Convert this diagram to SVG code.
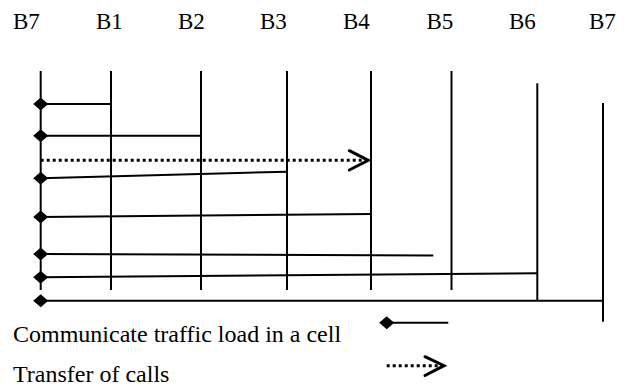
<svg xmlns="http://www.w3.org/2000/svg" width="629" height="386" viewBox="0 0 629 386">
<defs>
<style>
text{font-family:"Liberation Serif","Times New Roman",serif;fill:#000}
.lbl{font-size:23px}
.leg{font-size:24px}
.v{stroke:#000;stroke-width:2;fill:none}
.h{stroke:#000;stroke-width:2;fill:none}
.dot{stroke:#000;stroke-width:3;stroke-dasharray:3 3;fill:none}
.head{stroke:#000;stroke-width:3;fill:none;stroke-linecap:round;stroke-linejoin:miter}
.dm{fill:#000}
</style>
<path id="dia" class="dm" d="M-7.5 0 L0 -6.5 L7.5 0 L0 6.5 Z"/>
</defs>
<rect width="629" height="386" fill="#fff"/>
<g id="label-B7-left"><text class="lbl" x="13" y="29">B7</text></g>
<g id="label-B1"><text class="lbl" x="96" y="29">B1</text></g>
<g id="label-B2"><text class="lbl" x="178" y="29">B2</text></g>
<g id="label-B3"><text class="lbl" x="260" y="29">B3</text></g>
<g id="label-B4"><text class="lbl" x="343" y="29">B4</text></g>
<g id="label-B5"><text class="lbl" x="426.5" y="29">B5</text></g>
<g id="label-B6"><text class="lbl" x="509" y="29">B6</text></g>
<g id="label-B7-right"><text class="lbl" x="589" y="29">B7</text></g>
<g id="lifelines">
<line class="v" x1="40.7" y1="71" x2="40.7" y2="290"/>
<line class="v" x1="111" y1="71" x2="111" y2="290"/>
<line class="v" x1="201" y1="71" x2="201" y2="290"/>
<line class="v" x1="287" y1="71" x2="287" y2="290"/>
<line class="v" x1="371" y1="71" x2="371" y2="290"/>
<line class="v" x1="451.5" y1="71" x2="451.5" y2="290"/>
<line class="v" x1="537.3" y1="83.3" x2="537.3" y2="300.7"/>
<line class="v" x1="603" y1="103" x2="603" y2="321.7"/>
</g>
<g id="connectors">
<line class="h" x1="40.7" y1="104" x2="111" y2="104"/>
<use href="#dia" x="40.7" y="104"/>
<line class="h" x1="40.7" y1="135.7" x2="201" y2="135.7"/>
<use href="#dia" x="40.7" y="135.7"/>
<line class="dot" x1="40.7" y1="160.3" x2="366" y2="160.3"/>
<polyline class="head" points="349.3,150.7 368.3,160.3 349.3,170"/>
<line class="h" x1="40.7" y1="178.3" x2="287" y2="171.7"/>
<use href="#dia" x="40.7" y="178.3"/>
<line class="h" x1="40.7" y1="217" x2="372" y2="214"/>
<use href="#dia" x="40.7" y="217"/>
<line class="h" x1="40.7" y1="254" x2="433.3" y2="255.5"/>
<use href="#dia" x="40.7" y="254"/>
<line class="h" x1="40.7" y1="277.3" x2="537.3" y2="273.3"/>
<use href="#dia" x="40.7" y="277.3"/>
<line class="h" x1="40.7" y1="300.7" x2="603" y2="300.7"/>
<use href="#dia" x="40.7" y="300.7"/>
</g>
<g id="legend">
<text class="leg" x="13" y="341.7">Communicate traffic load in a cell</text>
<line class="h" x1="386.7" y1="322.7" x2="448.3" y2="322.7"/>
<use href="#dia" x="386.7" y="322.7"/>
<text class="leg" x="13" y="381.7">Transfer of calls</text>
<line class="dot" x1="386.7" y1="365.7" x2="442" y2="365.7"/>
<polyline class="head" points="425,356.7 444,365.7 425,375.5"/>
</g>
</svg>
